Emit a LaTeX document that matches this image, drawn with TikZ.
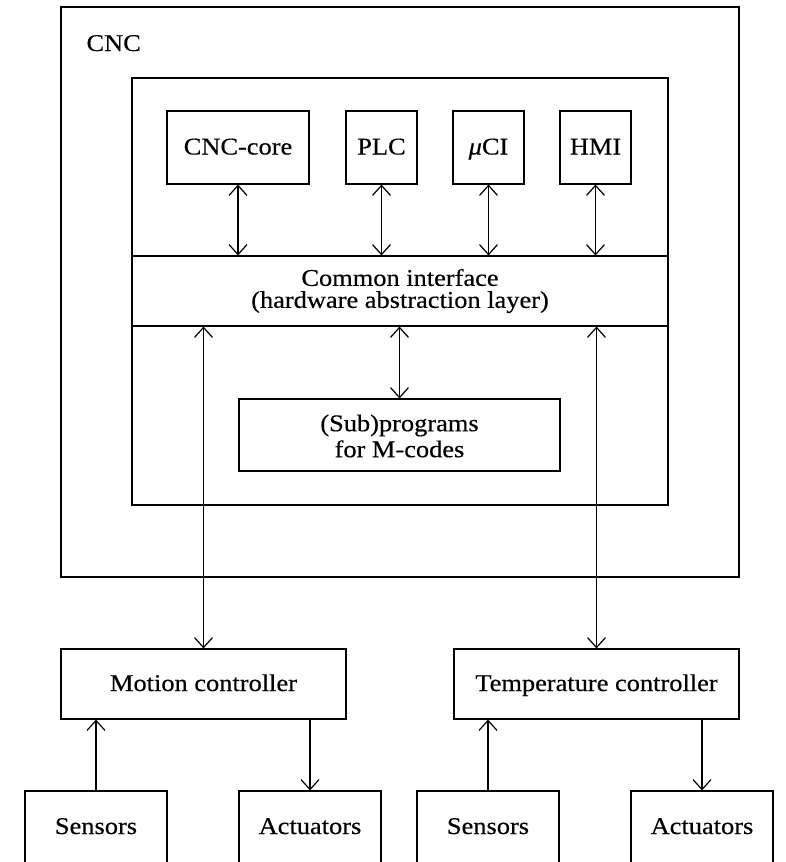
\documentclass[tikz,border=0pt]{standalone}
\usepackage{fontspec}
\setmainfont{Liberation Serif}[FakeStretch=1.1,FakeBold=0.4]
\usetikzlibrary{arrows.meta}
\begin{document}
\begin{tikzpicture}[x=1pt,y=-1pt, line width=1.1pt,
  box/.style={draw, rectangle, inner sep=0pt, align=center, font=\fontsize{24}{22}\selectfont},
  one/.style={text height=15pt, text depth=1pt},
  lbl/.style={inner sep=0pt, align=center, font=\fontsize{24}{22}\selectfont},
  tip/.tip={Straight Barb[length=10pt,width=18pt,line width=1.2pt]},
  arr/.style={-tip},
  darr/.style={tip-tip}]
\useasboundingbox (0,0) rectangle (785,862);
\clip (0,0) rectangle (785,862);
% outer CNC box
\node[box, minimum width=678, minimum height=570] (cnc) at (400,292) {};
\node[lbl, anchor=base west] (cnclab) at (86,51) {CNC};
% inner box
\node[box, minimum width=536, minimum height=427] (inner) at (400,291.5) {};
% common interface band
\node[box, minimum width=536, minimum height=70] (band) at (400,291) {};
\node[lbl] (bandtext) at (400,291) {Common interface\\(hardware abstraction layer)};
% top modules
\node[box, one, minimum width=142, minimum height=73] (core) at (238,147.5) {CNC-core};
\node[box, one, minimum width=71, minimum height=73] (plc) at (381.5,147.5) {PLC};
\node[box, one, minimum width=71, minimum height=73] (uci) at (488.5,147.5) {\textit{μ}CI};
\node[box, one, minimum width=71, minimum height=73] (hmi) at (595.5,147.5) {HMI};
% subprograms
\node[box, minimum width=321, minimum height=72] (sub) at (399.5,435) {};
\node[lbl, font=\fontsize{24}{26}\selectfont] (subtext) at (399.5,436) {(Sub)programs\\for M-codes};
% controllers
\node[box, one, minimum width=285, minimum height=70] (motion) at (203.5,684) {Motion controller};
\node[box, one, minimum width=285, minimum height=70] (temp) at (596.5,684) {Temperature controller};
% bottom boxes (cut off at the bottom edge)
\node[box, one, minimum width=142, minimum height=72] (s1) at (96,827) {Sensors};
\node[box, one, minimum width=142, minimum height=72] (a1) at (310,827) {Actuators};
\node[box, one, minimum width=142, minimum height=72] (s2) at (488,827) {Sensors};
\node[box, one, minimum width=142, minimum height=72] (a2) at (702,827) {Actuators};
% connectors
\draw[darr] (core.south) -- (core.south |- band.north);
\draw[darr] (plc.south) -- (plc.south |- band.north);
\draw[darr] (uci.south) -- (uci.south |- band.north);
\draw[darr] (hmi.south) -- (hmi.south |- band.north);
\draw[darr] (band.south -| sub.north) -- (sub.north);
\draw[darr] (band.south -| motion.north) -- (motion.north);
\draw[darr] (band.south -| temp.north) -- (temp.north);
\draw[arr] (s1.north) -- (s1.north |- motion.south);
\draw[arr] (a1.north |- motion.south) -- (a1.north);
\draw[arr] (s2.north) -- (s2.north |- temp.south);
\draw[arr] (a2.north |- temp.south) -- (a2.north);
\end{tikzpicture}
\end{document}
